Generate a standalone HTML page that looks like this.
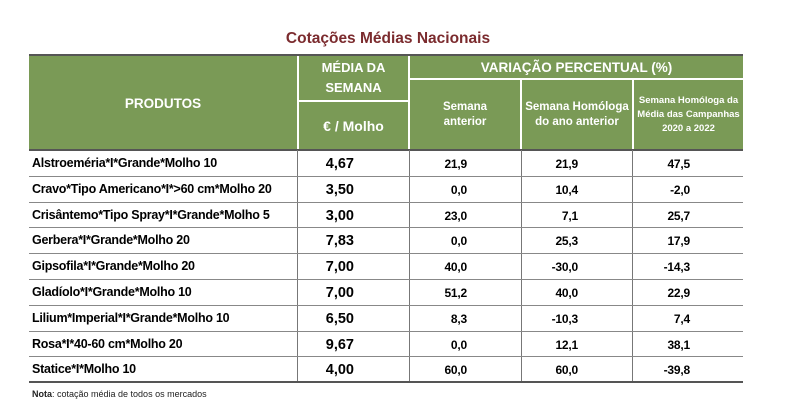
<!DOCTYPE html>
<html><head><meta charset="utf-8"><style>
body{margin:0;width:794px;height:419px;background:#fff;position:relative;overflow:hidden;font-family:"Liberation Sans",sans-serif;}
.a{position:absolute;}
.g{background:#7a9a56;color:#fff;font-weight:bold;display:flex;align-items:center;justify-content:center;text-align:center;}
.t{font-weight:bold;font-size:12.5px;color:#000;letter-spacing:-0.25px;white-space:nowrap;}
.hl{position:absolute;left:29px;width:714px;height:1px;background:#888;}
.vl{position:absolute;width:1px;background:#777;top:150px;height:232px;}
</style></head><body>
<div class="a" style="left:0;width:776px;top:30px;text-align:center;font-size:15.5px;font-weight:bold;color:#7b2b2e;">Cotações Médias Nacionais</div>
<div class="a" style="left:29px;top:54px;width:714px;height:2px;background:#555;"></div>
<div class="a" style="left:29px;top:56px;width:714px;height:94px;background:#7a9a56;"></div>
<div class="a" style="left:29px;top:78px;width:268px;height:1px;background:#a7bd8e;"></div>
<div class="a g" style="left:29px;top:56px;width:268px;height:94px;font-size:13.5px;">PRODUTOS</div>
<div class="a g" style="left:298px;top:56px;width:111px;height:44px;font-size:13px;line-height:20px;">MÉDIA DA<br>SEMANA</div>
<div class="a" style="left:298px;top:100px;width:111px;height:2px;background:#fff;"></div>
<div class="a g" style="left:298px;top:102px;width:111px;height:48px;font-size:14px;">€ / Molho</div>
<div class="a" style="left:297px;top:56px;width:2px;height:94px;background:#fff;"></div>
<div class="a" style="left:408px;top:56px;width:2px;height:94px;background:#fff;"></div>
<div class="a g" style="left:410px;top:56px;width:333px;height:22px;font-size:13.5px;">VARIAÇÃO PERCENTUAL (%)</div>
<div class="a" style="left:410px;top:78px;width:333px;height:2px;background:#fff;"></div>
<div class="a g" style="left:410px;top:80px;width:110px;height:70px;font-size:11.5px;line-height:15px;">Semana<br>anterior</div>
<div class="a" style="left:520px;top:80px;width:2px;height:70px;background:#fff;"></div>
<div class="a g" style="left:522px;top:80px;width:110px;height:70px;font-size:11.5px;line-height:15px;">Semana Homóloga<br>do ano anterior</div>
<div class="a" style="left:632px;top:80px;width:2px;height:70px;background:#fff;"></div>
<div class="a g" style="left:634px;top:80px;width:109px;height:70px;font-size:9.5px;line-height:14px;">Semana Homóloga da<br>Média das Campanhas<br>2020 a 2022</div>
<div class="a" style="left:29px;top:149px;width:714px;height:2px;background:#555;"></div>
<div class="vl" style="left:297px"></div><div class="vl" style="left:409px"></div><div class="vl" style="left:521px"></div><div class="vl" style="left:632px"></div>
<div id="rows"></div>
<div class="a" style="left:29px;top:381px;width:714px;height:2px;background:#555;"></div>
<div class="a" style="left:32px;top:389px;font-size:9px;color:#222;"><b>Nota</b>: cotação média de todos os mercados</div>
<script>
var d=[["Alstroeméria*I*Grande*Molho 10","4,67","21,9","21,9","47,5"],
["Cravo*Tipo Americano*I*>60 cm*Molho 20","3,50","0,0","10,4","-2,0"],
["Crisântemo*Tipo Spray*I*Grande*Molho 5","3,00","23,0","7,1","25,7"],
["Gerbera*I*Grande*Molho 20","7,83","0,0","25,3","17,9"],
["Gipsofila*I*Grande*Molho 20","7,00","40,0","-30,0","-14,3"],
["Gladíolo*I*Grande*Molho 10","7,00","51,2","40,0","22,9"],
["Lilium*Imperial*I*Grande*Molho 10","6,50","8,3","-10,3","7,4"],
["Rosa*I*40-60 cm*Molho 20","9,67","0,0","12,1","38,1"],
["Statice*I*Molho 10","4,00","60,0","60,0","-39,8"]];
var h="";
for(var i=0;i<9;i++){var y=151+i*25.8;
if(i>0)h+='<div class="hl" style="top:'+(y-1)+'px"></div>';
h+='<div class="a t" style="left:32px;top:'+(y+5)+'px">'+d[i][0].replace(">","&gt;")+'</div>';
h+='<div class="a t" style="left:300px;width:54px;text-align:right;top:'+(y+5)+'px;font-size:14.5px;letter-spacing:0">'+d[i][1]+'</div>';
var r=[467,578,690];
for(var j=0;j<3;j++)h+='<div class="a t" style="left:'+(r[j]-60)+'px;width:60px;text-align:right;top:'+(y+6)+'px;font-size:12px;letter-spacing:-0.2px">'+d[i][j+2]+'</div>';}
document.getElementById("rows").innerHTML=h;
</script>
</body></html>
